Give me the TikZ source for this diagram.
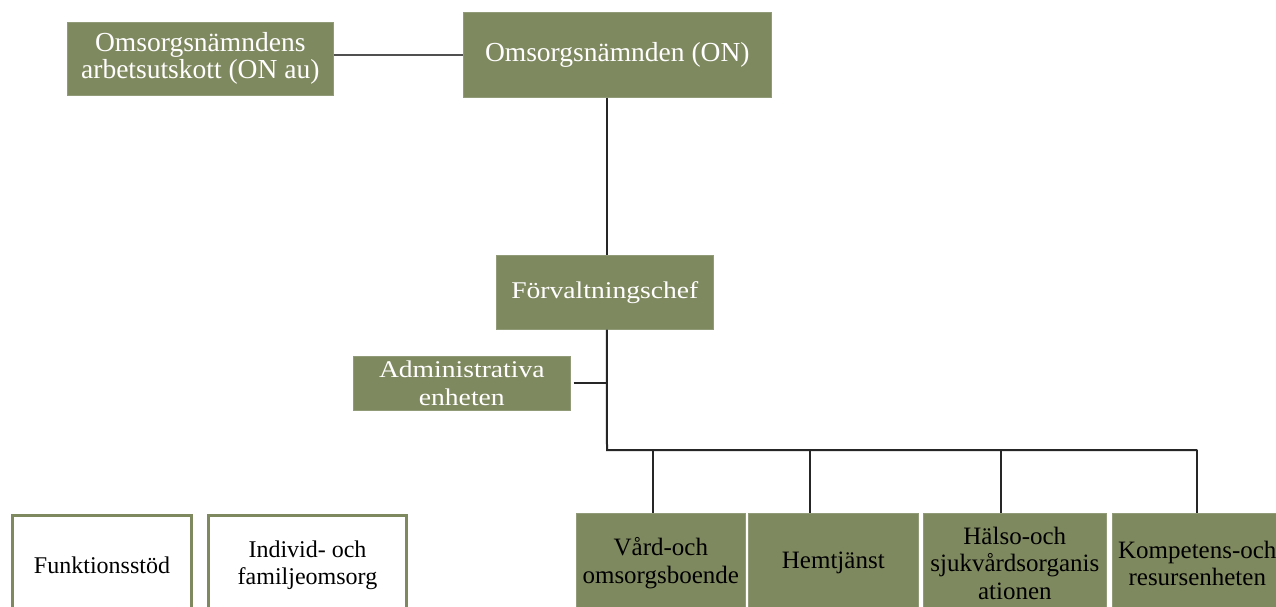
\documentclass[tikz,border=0pt]{standalone}
\usepackage{fontspec}
\setmainfont{Liberation Serif}
\newfontfamily\wideserif[FakeStretch=1.15]{Liberation Serif}
\definecolor{olive}{RGB}{127,137,95}
\definecolor{linegray}{RGB}{80,80,80}
\begin{document}
\begin{tikzpicture}[x=1pt,y=-1pt,
  gbox/.style={anchor=north west,fill=olive,draw=olive!85!white,line width=0.6pt,inner sep=0pt,align=center,rectangle},
  topbox/.style={gbox,text=white,font=\fontsize{27.5}{27}\selectfont},
  midbox/.style={gbox,text=white,font=\wideserif\fontsize{24}{28}\selectfont},
  botbox/.style={gbox,text=black,font=\fontsize{25}{27.5}\selectfont,minimum height=100pt},
  wbox/.style={anchor=north west,fill=white,draw=olive,line width=3pt,inner sep=0pt,align=center,text=black,font=\fontsize{24}{27}\selectfont,minimum height=100pt},
  conn/.style={draw=black!85,line width=2pt}]
\useasboundingbox (0,0) rectangle (1276,607);
\clip (0,0) rectangle (1276,607);
\fill[white] (0,0) rectangle (1276,607);

\node[topbox,minimum width=266pt,minimum height=73pt] (onau) at (67,22) {Omsorgsnämndens\\arbetsutskott (ON au)};
\node[topbox,minimum width=308pt,minimum height=85pt] (on) at (463,12) {Omsorgsnämnden (ON)};
\node[midbox,minimum width=217pt,minimum height=74pt] (fc) at (496,255) {Förvaltningschef};
\node[midbox,minimum width=217pt,minimum height=54pt] (adm) at (353,356) {Administrativa\\enheten};

\node[botbox,minimum width=169pt] (b1) at (576,513) {Vård-och\\omsorgsboende};
\node[botbox,minimum width=170pt] (b2) at (748,513) {Hemtjänst};
\node[botbox,minimum width=183pt] (b3) at (923,513) {Hälso-och\\sjukvårdsorganis\\ationen};
\node[botbox,minimum width=170pt] (b4) at (1112,513) {Kompetens-och\\resursenheten};

\node[wbox,minimum width=179pt] (w1) at (11,514) {Funktionsstöd};
\node[wbox,minimum width=198pt] (w2) at (207,514) {Individ- och\\familjeomsorg};

\coordinate (bus) at (607,450);

\draw[draw=linegray,line width=2pt] (onau.east |- on.west) -- (on.west);
\draw[conn] ([xshift=2pt]fc.north |- on.south) -- ([xshift=2pt]fc.north);
\draw[conn] ([xshift=2pt]fc.south) -- (bus) -- (bus -| b4.north);
\draw[conn] ([xshift=3pt]adm.east) -- (adm.east -| bus);
\draw[conn] ([xshift=77pt]b1.north west |- bus) -- ([xshift=77pt]b1.north west);
\draw[conn] ([xshift=62pt]b2.north west |- bus) -- ([xshift=62pt]b2.north west);
\draw[conn] ([xshift=78pt]b3.north west |- bus) -- ([xshift=78pt]b3.north west);
\draw[conn] ([xshift=85pt]b4.north west |- bus) -- ([xshift=85pt]b4.north west);
\end{tikzpicture}
\end{document}
